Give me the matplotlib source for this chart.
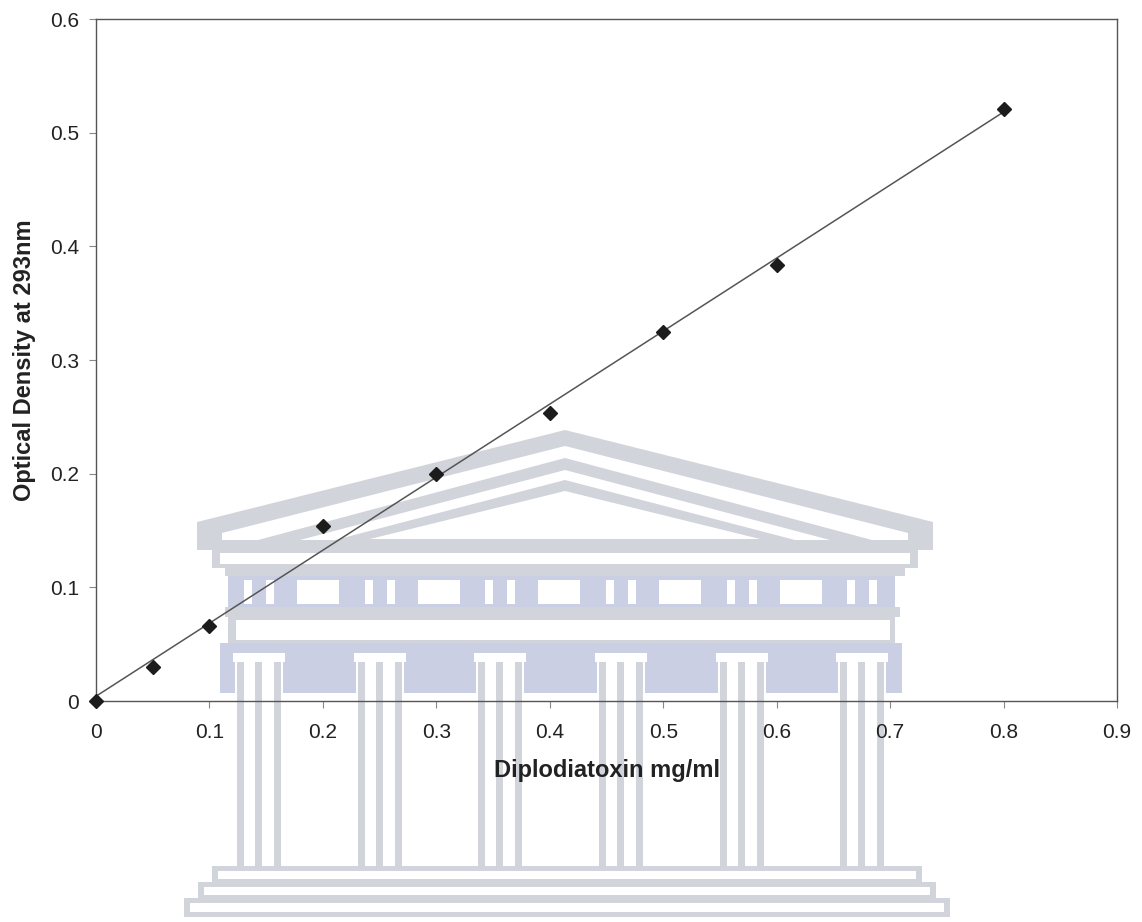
import numpy as np
import matplotlib.pyplot as plt
from matplotlib.patches import Polygon, Rectangle

plt.rcParams['font.family'] = ['Liberation Sans', 'DejaVu Sans']

# standard curve readings
conc = [0, 0.05, 0.1, 0.2, 0.3, 0.4, 0.5, 0.6, 0.8]
od = [0, 0.030, 0.066, 0.154, 0.200, 0.253, 0.325, 0.384, 0.521]

x_ticks = [0, 0.1, 0.2, 0.3, 0.4, 0.5, 0.6, 0.7, 0.8, 0.9]
y_ticks = [0, 0.1, 0.2, 0.3, 0.4, 0.5, 0.6]

W, H = 1142, 922
fig = plt.figure(figsize=(W / 100, H / 100), dpi=100)

# watermark drawn in pixel units on a background layer
bg = fig.add_axes([0, 0, 1, 1], zorder=0)
bg.set_xlim(0, W)
bg.set_ylim(H, 0)
bg.axis('off')

grey = '#d2d4db'
blue = '#cbcfe3'
white = 'white'


def rect(x0, y0, x1, y1, c):
    bg.add_patch(Rectangle((x0, y0), x1 - x0, y1 - y0, facecolor=c, edgecolor='none'))


def tri(pts, c):
    bg.add_patch(Polygon(pts, closed=True, facecolor=c, edgecolor='none'))


# pediment
tri([(197, 522), (565, 430), (933, 522), (933, 550), (197, 550)], grey)
tri([(222, 533), (565, 446), (908, 533), (908, 540), (222, 540)], white)
tri([(258, 540), (565, 458), (872, 540)], grey)
tri([(300, 540), (565, 470), (830, 540)], white)
tri([(335, 540), (565, 480), (795, 540)], grey)
tri([(370, 539), (565, 491), (760, 539)], white)

# cornice and frieze
rect(212, 550, 918, 568, grey)
rect(220, 553, 910, 564, white)
rect(225, 568, 905, 576, grey)
rect(228, 576, 895, 607, blue)
cols = [259, 380, 500, 621, 742, 862]
for c in cols:
    for dx in (-15, 7):
        rect(c + dx, 580, c + dx + 8, 604, white)
for c in cols[:-1]:
    rect(c + 38, 580, c + 80, 604, white)
rect(225, 607, 900, 617, grey)
rect(228, 617, 895, 643, grey)
rect(236, 620, 890, 640, white)

# capitals and columns
rect(220, 643, 902, 693, blue)
for c in cols:
    rect(c - 26, 653, c + 26, 662, white)
    rect(c - 24, 662, c + 24, 868, white)
    for x0 in (c - 22, c - 4, c + 15):
        rect(x0, 662, x0 + 7, 868, grey)

# steps
for x0, y0, x1, y1 in [(212, 866, 922, 884), (198, 882, 936, 900), (184, 898, 950, 917)]:
    rect(x0, y0, x1, y1, grey)
    rect(x0 + 6, y0 + 5, x1 - 6, y1 - 5, white)

# chart
ax = fig.add_axes([96 / W, 1 - 701 / H, (1117 - 96) / W, (701 - 19) / H], zorder=1)
ax.set_facecolor('none')

fit = np.polyfit(conc, od, 1)
xs = np.array([0, max(conc)])
ax.plot(xs, np.polyval(fit, xs), color='#555555', lw=1.1, zorder=2)
ax.plot(conc, od, linestyle='none', marker='D', markersize=7.5,
        color='#1c1c1c', zorder=3, clip_on=False)

ax.set_xlim(0, 0.9)
ax.set_ylim(0, 0.6)
ax.set_xticks(x_ticks)
ax.set_yticks(y_ticks)
ax.set_xticklabels([f'{v:g}' for v in x_ticks])
ax.set_yticklabels([f'{v:g}' for v in y_ticks])
ax.tick_params(direction='out', length=5, width=0.8, color='#888888',
               labelsize=15, labelcolor='#222222')
ax.tick_params(axis='x', pad=11)
ax.tick_params(axis='y', pad=7)
for s in ax.spines.values():
    s.set_color('#555555')
    s.set_linewidth(1)

ax.set_xlabel('Diplodiatoxin mg/ml', fontsize=17, fontweight='bold', color='#222222', labelpad=12)
ax.set_ylabel('Optical Density at 293nm', fontsize=17, fontweight='bold', color='#222222', labelpad=10)

fig.savefig('out.png', dpi=100)
